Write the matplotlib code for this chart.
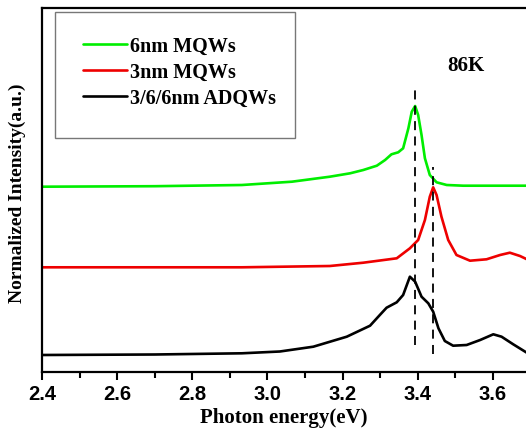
import matplotlib
matplotlib.use('Agg')
import matplotlib.pyplot as plt
from matplotlib.patches import Rectangle

# photon energy (eV) and relative intensity (arbitrary units, offsets included)
e_green = [2.40, 2.70, 2.932, 3.065, 3.166, 3.22, 3.255, 3.291, 3.313, 3.33, 3.348, 3.361,
           3.375, 3.384, 3.393, 3.401, 3.41, 3.419, 3.432, 3.45, 3.477, 3.521, 3.60, 3.70]
i_green = [185.3, 185.8, 187, 190.3, 195.3, 198.7, 202, 206.3, 212, 217.7, 219.7, 223.7,
           243.7, 260.3, 266, 257, 237, 213.7, 197, 189.7, 187, 186.3, 186.3, 186.3]

e_red = [2.40, 2.70, 2.932, 3.166, 3.255, 3.344, 3.379, 3.401, 3.419, 3.432, 3.441, 3.45,
         3.463, 3.481, 3.503, 3.539, 3.583, 3.619, 3.645, 3.672, 3.70]
i_red = [104.7, 104.7, 104.7, 106, 109.3, 113.7, 123.7, 132, 152, 175.3, 184.7, 177,
         155.3, 132, 117, 111.3, 112.7, 117, 119.3, 116, 111]

e_black = [2.40, 2.70, 2.932, 3.033, 3.122, 3.211, 3.273, 3.299, 3.317, 3.344, 3.361, 3.379,
           3.393, 3.41, 3.428, 3.441, 3.455, 3.472, 3.494, 3.53, 3.566, 3.601, 3.623, 3.654, 3.70]
i_black = [17, 17.5, 18.7, 20.5, 25.3, 35.3, 46.3, 57, 64.3, 69.7, 77, 95.3,
           90.3, 75.3, 68.7, 60.3, 43.7, 31, 26.3, 27, 32, 37.7, 35.3, 27.7, 17]

labels = ['6nm MQWs', '3nm MQWs', '3/6/6nm ADQWs']
colors = ['#00ee00', '#ee0000', '#000000']

# dashed guide lines: (energy, ymin, ymax)
guides = [(3.393, 27, 285), (3.441, 18, 205)]

serif = ['Liberation Serif', 'DejaVu Serif']
sans = ['Liberation Sans', 'DejaVu Sans']

fig = plt.figure(figsize=(5.26, 4.38), dpi=100)
ax = fig.add_axes([42/526, 66/438, 484/526, 364/438])

for e, i, c, lab in zip([e_green, e_red, e_black], [i_green, i_red, i_black], colors, labels):
    ax.plot(e, i, color=c, lw=1.9, label=lab, solid_joinstyle='round', solid_capstyle='round')

for x, y0, y1 in guides:
    ax.vlines(x, y0, y1, colors='black', linestyles=(0, (5, 3.5)), lw=1.3)

ax.set_xlim(2.4, 3.688)
ax.set_ylim(0, 364)
ax.set_yticks([])
ax.set_xticks([2.4, 2.6, 2.8, 3.0, 3.2, 3.4, 3.6])
ax.set_xticks([2.5, 2.7, 2.9, 3.1, 3.3, 3.5], minor=True)
ax.tick_params(axis='x', which='major', direction='out', length=6, width=1.5, pad=3)
ax.tick_params(axis='x', which='minor', direction='out', length=4, width=1.5)
for lab in ax.get_xticklabels():
    lab.set_family(sans)
    lab.set_fontweight('bold')
    lab.set_fontsize(14.5)

ax.spines['right'].set_visible(False)
for s in ['left', 'top', 'bottom']:
    ax.spines[s].set_linewidth(1.6)

ax.set_xlabel('Photon energy(eV)', family=serif, fontweight='bold', fontsize=15, labelpad=3)
ax.set_ylabel('Normalized Intensity(a.u.)', family=serif, fontweight='bold', fontsize=14)
ax.yaxis.set_label_coords(-0.034, 0.49)

ax.text(3.528, 306, '86K', family=serif, fontweight='bold', fontsize=15, ha='center', va='center')

ax.add_patch(Rectangle((0.027, 0.643), 0.496, 0.346, transform=ax.transAxes,
                       fill=False, edgecolor='#777777', lw=1.0))
leg = ax.legend(loc='upper left', bbox_to_anchor=(0.085, 0.922), frameon=False,
                prop={'family': serif, 'weight': 'bold', 'size': 14.5},
                handlelength=2.2, handletextpad=0.15, labelspacing=0.3,
                borderaxespad=0, borderpad=0)

fig.savefig('out.png', dpi=100)
